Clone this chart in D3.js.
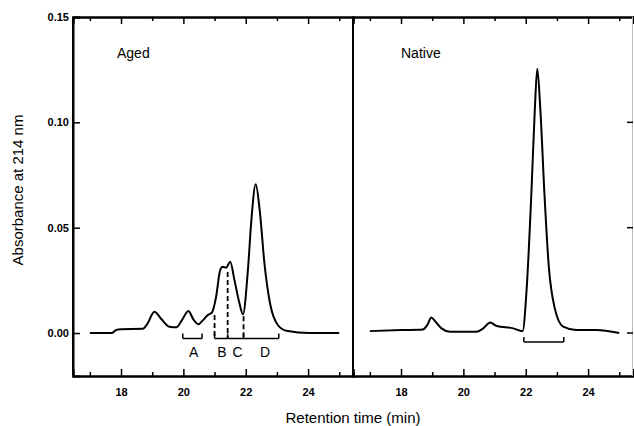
<!DOCTYPE html>
<html>
<head>
<meta charset="utf-8">
<script src="https://cdn.jsdelivr.net/npm/d3@7"></script>
<style>
  body { margin: 0; background: #fff; }
  text { font-family: "Liberation Sans", Arial, sans-serif; fill: #000; }
</style>
</head>
<body>
<svg id="chart" width="634" height="426"></svg>
<script>
// aged sample trace (time in min, absorbance)
var agedTime = [17.0, 17.7, 17.85, 18.0, 18.7, 18.85, 19.07, 19.3, 19.55, 19.78, 19.95, 20.16, 20.32, 20.48, 20.62, 20.78, 20.92, 21.05, 21.18, 21.26, 21.37, 21.5, 21.64, 21.8, 21.91, 22.07, 22.18, 22.32, 22.45, 22.6, 22.78, 23.03, 23.3, 24.05, 25.0];
var agedAbs = [0.0, 0.0, 0.0015, 0.0018, 0.002, 0.0045, 0.0101, 0.0065, 0.003, 0.0027, 0.006, 0.0105, 0.0065, 0.0042, 0.006, 0.0085, 0.0098, 0.0172, 0.0299, 0.0314, 0.031, 0.0338, 0.025, 0.014, 0.0089, 0.03, 0.0535, 0.0706, 0.058, 0.033, 0.014, 0.0038, 0.0011, 0.0, 0.0];

// native sample trace
var nativeTime = [17.0, 18.0, 18.7, 18.85, 18.97, 19.1, 19.3, 19.57, 20.43, 20.64, 20.86, 21.07, 21.6, 21.9, 22.02, 22.18, 22.29, 22.37, 22.47, 22.6, 22.74, 22.92, 23.2, 23.62, 24.26, 25.0];
var nativeAbs = [0.0009, 0.0014, 0.0017, 0.004, 0.0074, 0.0055, 0.0022, 0.0006, 0.0006, 0.0022, 0.005, 0.0033, 0.0022, 0.0009, 0.0188, 0.066, 0.1057, 0.1254, 0.1057, 0.066, 0.0314, 0.0124, 0.003, 0.0014, 0.0014, 0.0];

// fraction brackets and cut lines
var agedCuts = [21.0, 21.42, 21.93];
var cutTops = [0.0085, 0.029, 0.008];
var fractionNames = ["A", "B", "C", "D"];
var fractionPos = [20.33, 21.24, 21.74, 22.62];
var bracketA = [19.98, 20.6];
var bracketBD = [21.0, 23.06];
var bracketNative = [21.94, 23.22];

var yTicks = [0, 0.05, 0.10, 0.15];
var xMajor = [18, 20, 22, 24];
var xMinor = [17, 19, 21, 23, 25];

var svg = d3.select("#chart");
var plotTop = 17, plotBottom = 376, plotLeft = 73, panelW = 280;

var y = d3.scaleLinear().domain([-0.0204, 0.15]).range([plotBottom, plotTop]);

var line = d3.line()
    .x(function(d) { return d.x; })
    .y(function(d) { return d.y; })
    .curve(d3.curveMonotoneX);

function styleAxis(sel) {
    sel.select(".domain").attr("stroke", "#000").attr("stroke-width", 2);
    sel.selectAll(".tick line").attr("stroke", "#000").attr("stroke-width", 1.5);
    sel.selectAll(".tick text").attr("font-size", 11).attr("font-weight", "bold")
        .attr("font-family", "'Liberation Sans', Arial, sans-serif");
}

function drawPanel(x0, name, nameOffset, times, abs, isLeft, isRight) {
    var x = d3.scaleLinear().domain([16.46, 25.44]).range([x0, x0 + panelW]);
    var g = svg.append("g");

    // bottom axis, ticks inward
    g.append("g").attr("transform", "translate(0," + plotBottom + ")")
        .call(d3.axisBottom(x).tickValues(xMajor).tickSize(-7).tickPadding(12).tickFormat(d3.format("d")))
        .call(styleAxis);
    g.append("g").attr("transform", "translate(0," + plotBottom + ")")
        .call(d3.axisBottom(x).tickValues(xMinor).tickSize(-4).tickFormat(""))
        .call(styleAxis);
    // top axis
    g.append("g").attr("transform", "translate(0," + plotTop + ")")
        .call(d3.axisTop(x).tickValues(xMajor).tickSize(-7).tickFormat(""))
        .call(styleAxis);
    g.append("g").attr("transform", "translate(0," + plotTop + ")")
        .call(d3.axisTop(x).tickValues(xMinor).tickSize(-4).tickFormat(""))
        .call(styleAxis);

    if (isLeft) {
        g.append("g").attr("transform", "translate(" + x0 + ",0)")
            .call(d3.axisLeft(y).tickValues(yTicks).tickSize(-7).tickPadding(4).tickFormat(d3.format(".2f")))
            .call(styleAxis);
    }
    // panel left edge / divider
    g.append("line").attr("x1", x0).attr("x2", x0).attr("y1", plotTop).attr("y2", plotBottom)
        .attr("stroke", "#000").attr("stroke-width", 2);
    if (isRight) {
        g.append("line").attr("x1", x0 + panelW - 0.5).attr("x2", x0 + panelW - 0.5)
            .attr("y1", plotTop).attr("y2", plotBottom)
            .attr("stroke", "#bbb").attr("stroke-width", 1);
        g.selectAll(".rtick").data(yTicks.slice(0, 3)).enter().append("line")
            .attr("x1", x0 + panelW - 6).attr("x2", x0 + panelW)
            .attr("y1", function(d) { return y(d); }).attr("y2", function(d) { return y(d); })
            .attr("stroke", "#000").attr("stroke-width", 1.5);
    }

    var pts = times.map(function(t, i) { return { x: x(t), y: y(abs[i]) }; });
    g.append("path").attr("d", line(pts))
        .attr("fill", "none").attr("stroke", "#000").attr("stroke-width", 2)
        .attr("stroke-linejoin", "round");

    g.append("text").attr("x", x0 + nameOffset).attr("y", 58).attr("font-size", 14).text(name);
    return x;
}

function bracket(x, range, yb, h, ticks) {
    var xs = [range[0]].concat(ticks || []).concat([range[1]]);
    svg.append("line").attr("x1", x(range[0])).attr("x2", x(range[1]))
        .attr("y1", yb).attr("y2", yb).attr("stroke", "#000").attr("stroke-width", 1.5);
    svg.selectAll(null).data(xs).enter().append("line")
        .attr("x1", function(d) { return x(d); }).attr("x2", function(d) { return x(d); })
        .attr("y1", yb).attr("y2", yb - h).attr("stroke", "#000").attr("stroke-width", 1.5);
}

var xa = drawPanel(plotLeft, "Aged", 44, agedTime, agedAbs, true, false);
var xn = drawPanel(plotLeft + panelW, "Native", 48, nativeTime, nativeAbs, false, true);

// cut lines (dashed) from trace down to bracket
svg.selectAll(".cut").data(agedCuts).enter().append("line")
    .attr("x1", function(d) { return xa(d); }).attr("x2", function(d) { return xa(d); })
    .attr("y1", function(d, i) { return y(cutTops[i]); }).attr("y2", 338.5)
    .attr("stroke", "#000").attr("stroke-width", 1.8).attr("stroke-dasharray", "5,3");

bracket(xa, bracketA, 338.5, 5, []);
bracket(xa, bracketBD, 338.5, 5, [21.42, 21.93]);
bracket(xn, bracketNative, 342, 5, []);

svg.selectAll(".frac").data(fractionNames).enter().append("text")
    .attr("x", function(d, i) { return xa(fractionPos[i]); })
    .attr("y", 357).attr("text-anchor", "middle").attr("font-size", 14)
    .text(function(d) { return d; });

// axis titles
svg.append("text").attr("x", 353).attr("y", 423).attr("text-anchor", "middle")
    .attr("font-size", 15).text("Retention time (min)");
svg.append("text").attr("transform", "translate(23,190) rotate(-90)")
    .attr("text-anchor", "middle").attr("font-size", 15).text("Absorbance at 214 nm");
</script>
</body>
</html>
